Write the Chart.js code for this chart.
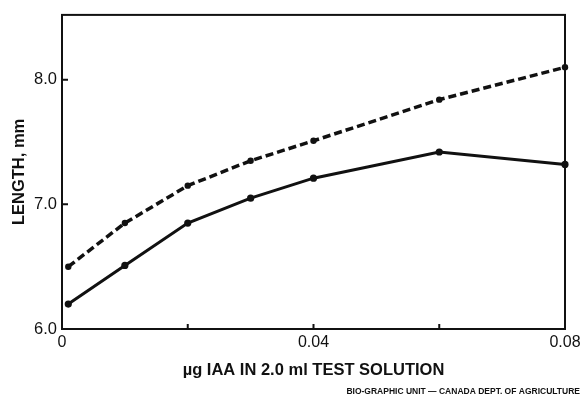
<!DOCTYPE html>
<html lang="en">
<head>
  <meta charset="UTF-8">
  <title>IAA test solution - length</title>
  <script src="https://cdn.jsdelivr.net/npm/chart.js"></script>
  <style>
    body {
      margin: 0;
      padding: 0;
      background: #fff;
    }
  </style>
</head>
<body>
  <canvas id="lengthChart" width="581" height="402"></canvas>

  <script>
    // values
    const doses = [0.001, 0.01, 0.02, 0.03, 0.04, 0.06, 0.08];
    const lengthSolid = [6.20, 6.51, 6.85, 7.05, 7.21, 7.42, 7.32];
    const lengthDashed = [6.50, 6.85, 7.15, 7.35, 7.51, 7.84, 8.10];
    const xTicks = [0, 0.02, 0.04, 0.06, 0.08];
    const xTickLabels = ["0", "", "0.04", "", "0.08"];
    const yTicks = [6, 7, 8];
    const yTickLabels = ["6.0", "7.0", "8.0"];
    const creditText = "BIO-GRAPHIC UNIT \u2014 CANADA DEPT. OF AGRICULTURE";

    const ink = "#111";
    const font = "'Liberation Sans', Arial, sans-serif";

    const toPoints = (ys) => doses.map((d, i) => ({ x: d, y: ys[i] }));

    // box around the plot, short inward ticks, credit line
    const framePlugin = {
      id: "frame",
      afterDatasetsDraw(chart) {
        const { ctx, chartArea: a, scales } = chart;
        ctx.save();
        ctx.strokeStyle = ink;
        ctx.lineWidth = 2;
        ctx.strokeRect(a.left, a.top, a.right - a.left, a.bottom - a.top);
        ctx.beginPath();
        yTicks.forEach((v) => {
          const y = scales.y.getPixelForValue(v);
          ctx.moveTo(a.left, y);
          ctx.lineTo(a.left + 6, y);
        });
        xTicks.slice(1, -1).forEach((v) => {
          const x = scales.x.getPixelForValue(v);
          ctx.moveTo(x, a.bottom);
          ctx.lineTo(x, a.bottom - 5);
        });
        ctx.stroke();

        ctx.fillStyle = ink;
        ctx.font = "bold 8.5px " + font;
        ctx.textAlign = "right";
        ctx.textBaseline = "middle";
        ctx.fillText(creditText, chart.width - 1, 392);
        ctx.restore();
      }
    };

    new Chart(document.getElementById("lengthChart"), {
      type: "line",
      data: {
        datasets: [
          {
            label: "dashed",
            data: toPoints(lengthDashed),
            borderColor: ink,
            backgroundColor: ink,
            borderWidth: 3.5,
            borderDash: [8, 4],
            pointRadius: 3.2,
            pointBorderWidth: 0,
            tension: 0,
            clip: false
          },
          {
            label: "solid",
            data: toPoints(lengthSolid),
            borderColor: ink,
            backgroundColor: ink,
            borderWidth: 3,
            pointRadius: 3.6,
            pointBorderWidth: 0,
            tension: 0,
            clip: false
          }
        ]
      },
      options: {
        responsive: false,
        animation: false,
        layout: { padding: { top: 13, right: 16, left: 0, bottom: 0 } },
        plugins: {
          legend: { display: false },
          tooltip: { enabled: false }
        },
        scales: {
          x: {
            type: "linear",
            min: 0,
            max: 0.08,
            afterBuildTicks: (scale) => {
              scale.ticks = xTicks.map((v) => ({ value: v }));
            },
            afterFit: (scale) => {
              scale.height = 73;
              // let the end labels hang past the box, as in the original
              scale.paddingLeft = 0;
              scale.paddingRight = 0;
            },
            grid: { display: false, drawTicks: false },
            border: { display: false },
            ticks: {
              autoSkip: false,
              maxRotation: 0,
              padding: 4,
              color: ink,
              font: { family: font, size: 16 },
              callback: (v, i) => xTickLabels[i]
            },
            title: {
              display: true,
              text: "\u00b5g IAA IN 2.0 ml TEST SOLUTION",
              color: ink,
              font: { family: font, size: 16.5, weight: "bold" },
              padding: { top: 0, bottom: 22 }
            }
          },
          y: {
            min: 6,
            max: 8.52,
            afterBuildTicks: (scale) => {
              scale.ticks = yTicks.map((v) => ({ value: v }));
            },
            afterFit: (scale) => {
              scale.width = 62;
            },
            grid: { display: false, drawTicks: false },
            border: { display: false },
            ticks: {
              padding: 5,
              color: ink,
              font: { family: font, size: 16.5 },
              callback: (v, i) => yTickLabels[i]
            },
            title: {
              display: true,
              text: "LENGTH, mm",
              color: ink,
              font: { family: font, size: 16.5, weight: "bold" },
              padding: { top: 10, bottom: 0 }
            }
          }
        }
      },
      plugins: [framePlugin]
    });
  </script>
</body>
</html>
